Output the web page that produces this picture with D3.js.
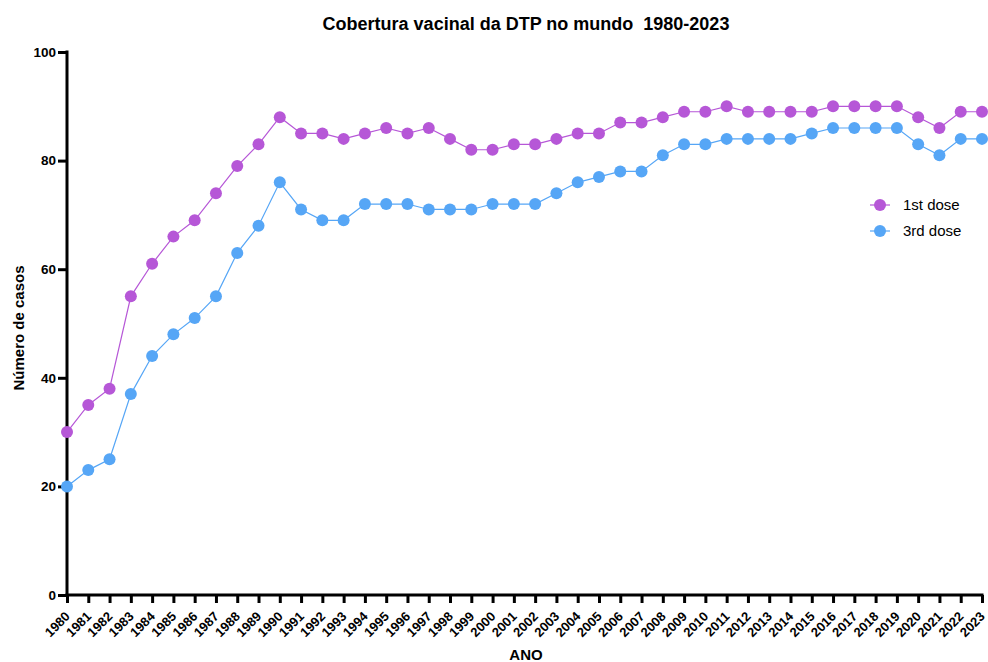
<!DOCTYPE html>
<html>
<head>
<meta charset="utf-8">
<script src="https://cdn.jsdelivr.net/npm/d3@7"></script>
<style>
  body { margin: 0; background: #fff; }
  svg { display: block; font-family: Arial, "Liberation Sans", sans-serif; }
</style>
</head>
<body>
<svg id="chart" width="988" height="662"></svg>
<script>
// DTP vaccination coverage (%), world, 1980-2023
const years = d3.range(1980, 2024);
const dose1 = [30, 35, 38, 55, 61, 66, 69, 74, 79, 83,
               88, 85, 85, 84, 85, 86, 85, 86, 84, 82,
               82, 83, 83, 84, 85, 85, 87, 87, 88, 89,
               89, 90, 89, 89, 89, 89, 90, 90, 90, 90,
               88, 86, 89, 89];
const dose3 = [20, 23, 25, 37, 44, 48, 51, 55, 63, 68,
               76, 71, 69, 69, 72, 72, 72, 71, 71, 71,
               72, 72, 72, 74, 76, 77, 78, 78, 81, 83,
               83, 84, 84, 84, 84, 85, 86, 86, 86, 86,
               83, 81, 84, 84];
const yTicks = [0, 20, 40, 60, 80, 100];
const seriesNames = ["1st dose", "3rd dose"];
const seriesColors = ["#B657D7", "#56A6F6"];

const svg = d3.select("#chart");
const plot = { left: 67, right: 982, top: 52, bottom: 595 };

const x = d3.scalePoint().domain(years).range([plot.left, plot.right]);
const y = d3.scaleLinear().domain([0, 100]).range([plot.bottom, plot.top]);

// Title
svg.append("text")
  .attr("x", 526).attr("y", 30)
  .attr("text-anchor", "middle")
  .style("font-size", "18px").style("font-weight", "bold")
  .style("white-space", "pre")
  .text("Cobertura vacinal da DTP no mundo  1980-2023");

// Y axis
const yAxis = svg.append("g")
  .attr("transform", `translate(${plot.left},0)`)
  .call(d3.axisLeft(y).tickValues(yTicks).tickSize(9).tickPadding(2));
yAxis.select(".domain").attr("stroke", "#000").attr("stroke-width", 3)
  .attr("d", `M0,${plot.bottom + 1.5}V${plot.top - 1.5}`);
yAxis.selectAll(".tick line").attr("stroke", "#000").attr("stroke-width", 3);
yAxis.selectAll(".tick text")
  .style("font-size", "13.5px").style("font-weight", "bold")
  .attr("fill", "#000");

// X axis
const xAxis = svg.append("g")
  .attr("transform", `translate(0,${plot.bottom})`)
  .call(d3.axisBottom(x).tickSize(8).tickSizeOuter(0));
xAxis.select(".domain").attr("stroke", "#000").attr("stroke-width", 3)
  .attr("d", `M${plot.left - 1.5},0H${plot.right + 1.5}`);
xAxis.selectAll(".tick line").attr("stroke", "#000").attr("stroke-width", 3);
xAxis.selectAll(".tick text")
  .style("font-size", "13px").style("font-weight", "bold")
  .attr("fill", "#000")
  .attr("text-anchor", "end")
  .attr("x", 0).attr("y", 0)
  .attr("dy", "0.35em")
  .attr("transform", "translate(0,19) rotate(-45)");

// Axis titles
svg.append("text")
  .attr("x", 526).attr("y", 660)
  .attr("text-anchor", "middle")
  .style("font-size", "15px").style("font-weight", "bold")
  .text("ANO");
svg.append("text")
  .attr("transform", `translate(24,328) rotate(-90)`)
  .attr("text-anchor", "middle")
  .style("font-size", "15px").style("font-weight", "bold")
  .text("Número de casos");

// Series
const series = [dose1, dose3];
const line = d3.line().x((d, i) => x(years[i])).y(d => y(d));
series.forEach((vals, s) => {
  const g = svg.append("g");
  g.append("path")
    .datum(vals)
    .attr("d", line)
    .attr("fill", "none")
    .attr("stroke", seriesColors[s])
    .attr("stroke-width", 1.2);
  g.selectAll("circle")
    .data(vals)
    .join("circle")
    .attr("cx", (d, i) => x(years[i]))
    .attr("cy", d => y(d))
    .attr("r", 6)
    .attr("fill", seriesColors[s]);
});

// Legend
const legend = svg.append("g").attr("transform", "translate(880,205)");
seriesNames.forEach((name, i) => {
  const row = legend.append("g").attr("transform", `translate(0,${i * 26})`);
  row.append("line").attr("x1", -10).attr("x2", 10)
    .attr("stroke", seriesColors[i]).attr("stroke-width", 1.2);
  row.append("circle").attr("r", 6).attr("fill", seriesColors[i]);
  row.append("text").attr("x", 23).attr("dy", "0.35em")
    .style("font-size", "15px").attr("fill", "#000")
    .text(name);
});
</script>
</body>
</html>
